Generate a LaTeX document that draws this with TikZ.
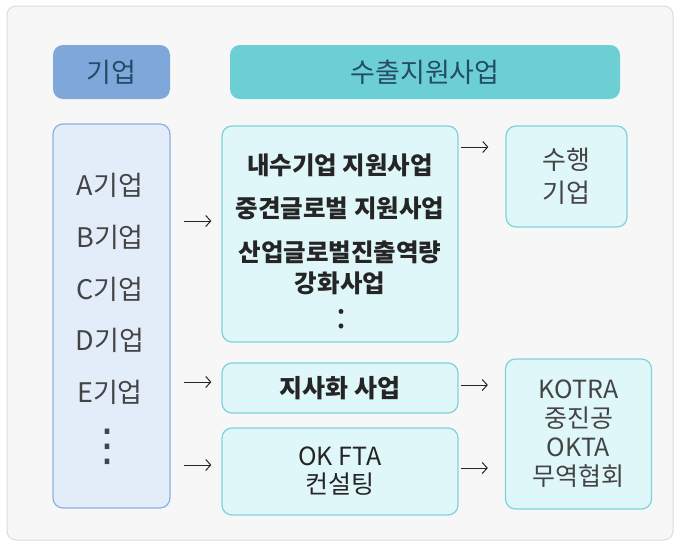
\documentclass[tikz,border=0pt]{standalone}
\usepackage{fontspec}
\setmainfont{Noto Sans CJK KR}
\newfontfamily\dotfont{DejaVu Sans}
\usetikzlibrary{arrows.meta}
\definecolor{bgfill}{HTML}{F7F7F7}
\definecolor{bgline}{HTML}{DCDCDC}
\definecolor{hdblue}{HTML}{7FA7D9}
\definecolor{hdteal}{HTML}{6CCFD3}
\definecolor{cofill}{HTML}{E3EDFA}
\definecolor{coline}{HTML}{8DB1DE}
\definecolor{prfill}{HTML}{E0F7FA}
\definecolor{prline}{HTML}{7DD3DA}
\definecolor{txt}{HTML}{444444}
\definecolor{dtxt}{HTML}{252525}
\definecolor{hdtxt}{HTML}{244B68}
\tikzset{
  hdr/.style={rounded corners=10pt, text=hdtxt, font=\fontsize{27}{30}\selectfont},
  cobox/.style={draw=coline, fill=cofill, line width=1.2pt, rounded corners=10pt},
  prbox/.style={draw=prline, fill=prfill, line width=1.2pt, rounded corners=10pt},
  cotxt/.style={text=txt, font=\fontsize{27}{30}\selectfont, inner sep=0pt},
  prtxt/.style={text=dtxt, font=\bfseries\fontsize{24.5}{31}\selectfont, align=center, inner sep=0pt},
  rttxt/.style={text=txt, font=\fontsize{26}{33}\selectfont, align=center},
  arr/.style={draw=dtxt, line width=1pt, -{Straight Barb[length=5pt,width=11pt]}}
}
\begin{document}
\begin{tikzpicture}[x=1pt,y=-1pt]
\useasboundingbox (0,0) rectangle (680,546);
\draw[fill=bgfill, draw=bgline, line width=1pt, rounded corners=9pt] (7,6) rectangle (673,540);
% headers
\node[hdr, fill=hdblue, minimum width=117pt, minimum height=54pt] (h1) at (111.5,72) {기업};
\node[hdr, fill=hdteal, minimum width=390pt, minimum height=54pt] (h2) at (425,72) {수출지원사업};
% company column
\node[cobox, minimum width=117pt, minimum height=384pt] (co) at (111.5,316) {};
\node[cotxt] (ca) at (110,185) {A기업};
\node[cotxt] (cb) at (110,237) {B기업};
\node[cotxt] (cc) at (110,289) {C기업};
\node[cotxt] (cd) at (110,340) {D기업};
\node[cotxt] (ce) at (110,392) {E기업};
\node[cotxt, font=\dotfont\fontsize{44}{44}\selectfont] (cf) at (107,447) {⋮};
% programmes
\node[prbox, minimum width=236pt, minimum height=216pt] (p1) at (340,234) {};
\node[prtxt] (p1a) at (340,165) {내수기업 지원사업};
\node[prtxt] (p1b) at (340,208) {중견글로벌 지원사업};
\node[prtxt] (p1c) at (340,267.5) {산업글로벌진출역량\\강화사업};
\node[prtxt, font=\fontsize{36}{36}\selectfont] (p1d) at (342,319) {:};
\node[prbox, prtxt, minimum width=236pt, minimum height=50pt, font=\bfseries\fontsize{25}{31}\selectfont] (p2) at (340,388) {지사화 사업};
\node[prbox, prtxt, minimum width=236pt, minimum height=87pt, font=\fontsize{25}{28}\selectfont] (p3) at (340,471.5) {OK FTA\\컨설팅};
% executors
\node[prbox, rttxt, minimum width=121pt, minimum height=101pt] (r1) at (566.5,176.5) {수행\\기업};
\node[prbox, rttxt, minimum width=146pt, minimum height=150pt, font=\fontsize{25}{29}\selectfont] (r2) at (578.5,434) {KOTRA\\중진공\\OKTA\\무역협회};
% arrows
\draw[arr, shorten <=13pt, shorten >=10pt] (co.east |- 0,221) -- (p1.west |- 0,221);
\draw[arr, shorten <=13pt, shorten >=10pt] (co.east |- 0,382) -- (p2.west |- 0,382);
\draw[arr, shorten <=13pt, shorten >=10pt] (co.east |- 0,465) -- (p3.west |- 0,465);
\draw[arr, shorten <=2pt, shorten >=17pt] (p1.east |- 0,147) -- (r1.west |- 0,147);
\draw[arr, shorten <=2pt, shorten >=17pt] (p2.east |- 0,385) -- (r2.west |- 0,385);
\draw[arr, shorten <=2pt, shorten >=17pt] (p3.east |- 0,468) -- (r2.west |- 0,468);
\end{tikzpicture}
\end{document}
